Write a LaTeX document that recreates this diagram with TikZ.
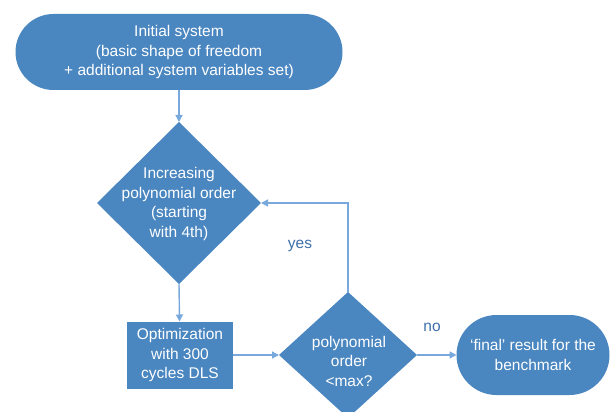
\documentclass[tikz,border=0pt]{standalone}
\usepackage{fontspec}
\setmainfont{Liberation Sans}
\usetikzlibrary{shapes.geometric,arrows.meta}

\definecolor{boxblue}{RGB}{74,134,192}
\definecolor{lineblue}{RGB}{120,168,220}
\definecolor{labelblue}{RGB}{62,112,170}

\tikzset{
  flow/.style={draw=none,fill=boxblue,text=white,align=center,
    font=\fontsize{15.5}{19.5}\selectfont,inner sep=0pt,outer sep=0pt},
  terminal/.style={flow,rectangle,rounded corners=38pt},
  process/.style={flow,rectangle},
  decision/.style={flow,diamond},
  flowtext/.style={text=white,align=center,font=\fontsize{15.5}{19.5}\selectfont,inner sep=0pt},
  conn/.style={lineblue,line width=1.4pt,-{Triangle[length=7pt,width=7pt]}},
  answer/.style={text=labelblue,font=\fontsize{15.5}{19.5}\selectfont}
}

\begin{document}
\begin{tikzpicture}[x=1pt,y=-1pt]
    \useasboundingbox (0,0) rectangle (611,412);
    \clip (0,0) rectangle (611,412);

    \node[terminal,minimum width=327pt,minimum height=76pt] (init) at (179,52)
      {Initial system\\(basic shape of freedom\\+ additional system variables set)};

    \node[decision,minimum width=164pt,minimum height=162pt] (order) at (179,203) {};
    \node[flowtext] (ordertext) at (179,204)
      {Increasing\\polynomial order\\(starting\\with 4th)};

    \node[process,minimum width=106pt,minimum height=67pt] (optim) at (180,355)
      {Optimization\\with 300\\cycles DLS};

    \node[decision,minimum width=138pt,minimum height=126pt] (check) at (348,355) {};
    \node[flowtext] (checktext) at (349,361)
      {polynomial\\order\\<max?};

    \node[terminal,rounded corners=40pt,minimum width=153pt,minimum height=80pt] (final) at (533,355)
      {`final' result for the\\benchmark};

    \draw[conn] (init) -- (order.north);
    \draw[conn] (order.south) -- (optim);
    \draw[conn] (optim) -- (check.west);
    \draw[conn] (check.north) |- (order.east);
    \draw[conn] (check.east) -- (final);

    \node[answer] (yes) at (300,246) {yes};
    \node[answer] (no) at (432,327) {no};
\end{tikzpicture}
\end{document}
